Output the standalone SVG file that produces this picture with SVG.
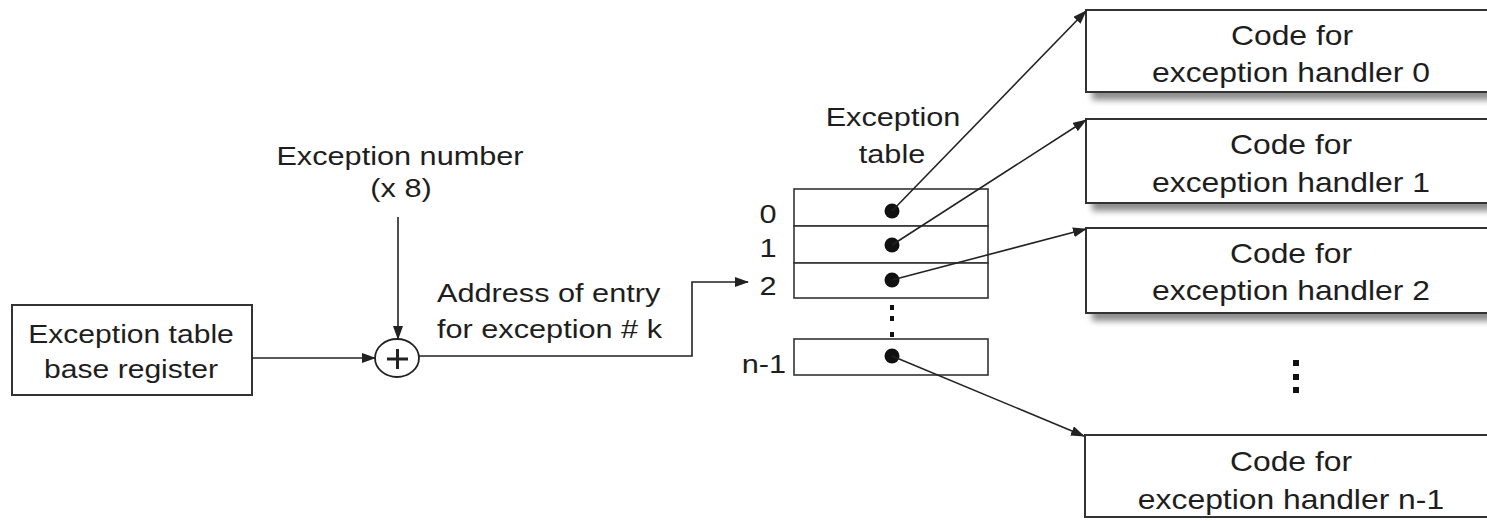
<svg xmlns="http://www.w3.org/2000/svg" width="1487" height="521" viewBox="0 0 1487 521">
<style>
.t{font-family:"Liberation Sans",Arial,sans-serif;fill:#1e1e1e;}
.f25{font-size:25.5px;}
.f26{font-size:26px;}
.f27{font-size:27px;}
.mid{text-anchor:middle;}
.box{fill:#fff;stroke:#333;stroke-width:2;}
.tbl{fill:#fff;stroke:#333;stroke-width:1.6;}
.ln{fill:none;stroke:#222;stroke-width:1.6;}
.dot{fill:#111;}
</style>
<defs>
<marker id="ah" markerWidth="14" markerHeight="10" refX="13" refY="5" orient="auto" markerUnits="userSpaceOnUse">
<path d="M0,0 L14,5 L0,10 Z" fill="#222"/>
</marker>
<filter id="sh" x="-5%" y="-20%" width="115%" height="160%">
<feGaussianBlur in="SourceAlpha" stdDeviation="3"/>
<feOffset dx="7" dy="7" result="b"/>
<feComponentTransfer><feFuncA type="linear" slope="0.45"/></feComponentTransfer>
<feMerge><feMergeNode/><feMergeNode in="SourceGraphic"/></feMerge>
</filter>
</defs>
<rect width="1487" height="521" fill="#fff"/>

<g id="base-register">
<rect class="box" x="12" y="305" width="240" height="90"/>
<text class="t f25 mid" transform="translate(131 343) scale(1.18 1)">Exception table</text>
<text class="t f25 mid" transform="translate(131 378) scale(1.18 1)">base register</text>
</g>

<g id="exception-number">
<text class="t f26 mid" transform="translate(400 165) scale(1.18 1)">Exception number</text>
<text class="t f26 mid" transform="translate(401 197) scale(1.18 1)">(x 8)</text>
</g>

<g id="adder">
<ellipse cx="397" cy="358" rx="22" ry="19" fill="#fff" stroke="#222" stroke-width="1.8"/>
<line x1="387" y1="359" x2="408" y2="359" stroke="#222" stroke-width="3"/>
<line x1="397.5" y1="349" x2="397.5" y2="369" stroke="#222" stroke-width="3"/>
</g>

<g id="address-label">
<text class="t f26" transform="translate(437 302) scale(1.18 1)">Address of entry</text>
<text class="t f26" transform="translate(437 338) scale(1.18 1)">for exception # k</text>
</g>

<g id="exception-table">
<text class="t f26 mid" transform="translate(893 126) scale(1.18 1)">Exception</text>
<text class="t f26 mid" transform="translate(892 163) scale(1.18 1)">table</text>
<rect class="tbl" x="794" y="189" width="194" height="37"/>
<rect class="tbl" x="794" y="226" width="194" height="37"/>
<rect class="tbl" x="794" y="263" width="194" height="35"/>
<rect class="tbl" x="794" y="339" width="194" height="36"/>
<circle class="dot" cx="892" cy="211" r="7.5"/>
<circle class="dot" cx="892" cy="245" r="7.5"/>
<circle class="dot" cx="892" cy="280" r="7.5"/>
<circle class="dot" cx="892" cy="356" r="7.5"/>
<rect class="dot" x="890" y="305" width="4" height="5"/>
<rect class="dot" x="890" y="316" width="4" height="5"/>
<rect class="dot" x="890" y="332" width="4" height="5"/>
<text class="t f26 mid" transform="translate(768 223) scale(1.18 1)">0</text>
<text class="t f26 mid" transform="translate(768 257) scale(1.18 1)">1</text>
<text class="t f26 mid" transform="translate(768 295) scale(1.18 1)">2</text>
<text class="t f26" transform="translate(786 373) scale(1.18 1)" text-anchor="end">n-1</text>
</g>

<g id="handler-0">
<rect class="box" x="1086" y="10" width="420" height="82" filter="url(#sh)"/>
<text class="t f27 mid" transform="translate(1292 45) scale(1.18 1)">Code for</text>
<text class="t f27 mid" transform="translate(1291 82) scale(1.18 1)">exception handler 0</text>
</g>

<g id="handler-1">
<rect class="box" x="1086" y="119" width="420" height="84" filter="url(#sh)"/>
<text class="t f27 mid" transform="translate(1291 154) scale(1.18 1)">Code for</text>
<text class="t f27 mid" transform="translate(1291 192) scale(1.18 1)">exception handler 1</text>
</g>

<g id="handler-2">
<rect class="box" x="1086" y="228" width="420" height="85" filter="url(#sh)"/>
<text class="t f27 mid" transform="translate(1291 263) scale(1.18 1)">Code for</text>
<text class="t f27 mid" transform="translate(1291 300) scale(1.18 1)">exception handler 2</text>
</g>

<g id="handler-ellipsis">
<rect class="dot" x="1293" y="360" width="6" height="6"/>
<rect class="dot" x="1293" y="374" width="6" height="6"/>
<rect class="dot" x="1293" y="387" width="6" height="6"/>
</g>

<g id="handler-n-1">
<rect class="box" x="1085" y="435" width="420" height="82"/>
<text class="t f27 mid" transform="translate(1291 471) scale(1.18 1)">Code for</text>
<text class="t f27 mid" transform="translate(1291 509) scale(1.18 1)">exception handler n-1</text>
</g>

<g id="connectors">
<line class="ln" x1="252" y1="358" x2="375" y2="358" marker-end="url(#ah)"/>
<line class="ln" x1="398" y1="217" x2="398" y2="339" marker-end="url(#ah)"/>
<polyline class="ln" points="419,356 692,356 692,282 748,282" marker-end="url(#ah)"/>
<line class="ln" x1="892" y1="211" x2="1086" y2="11" marker-end="url(#ah)"/>
<line class="ln" x1="892" y1="245" x2="1086" y2="120" marker-end="url(#ah)"/>
<line class="ln" x1="892" y1="280" x2="1086" y2="229" marker-end="url(#ah)"/>
<line class="ln" x1="892" y1="356" x2="1084" y2="436" marker-end="url(#ah)"/>
</g>
</svg>
